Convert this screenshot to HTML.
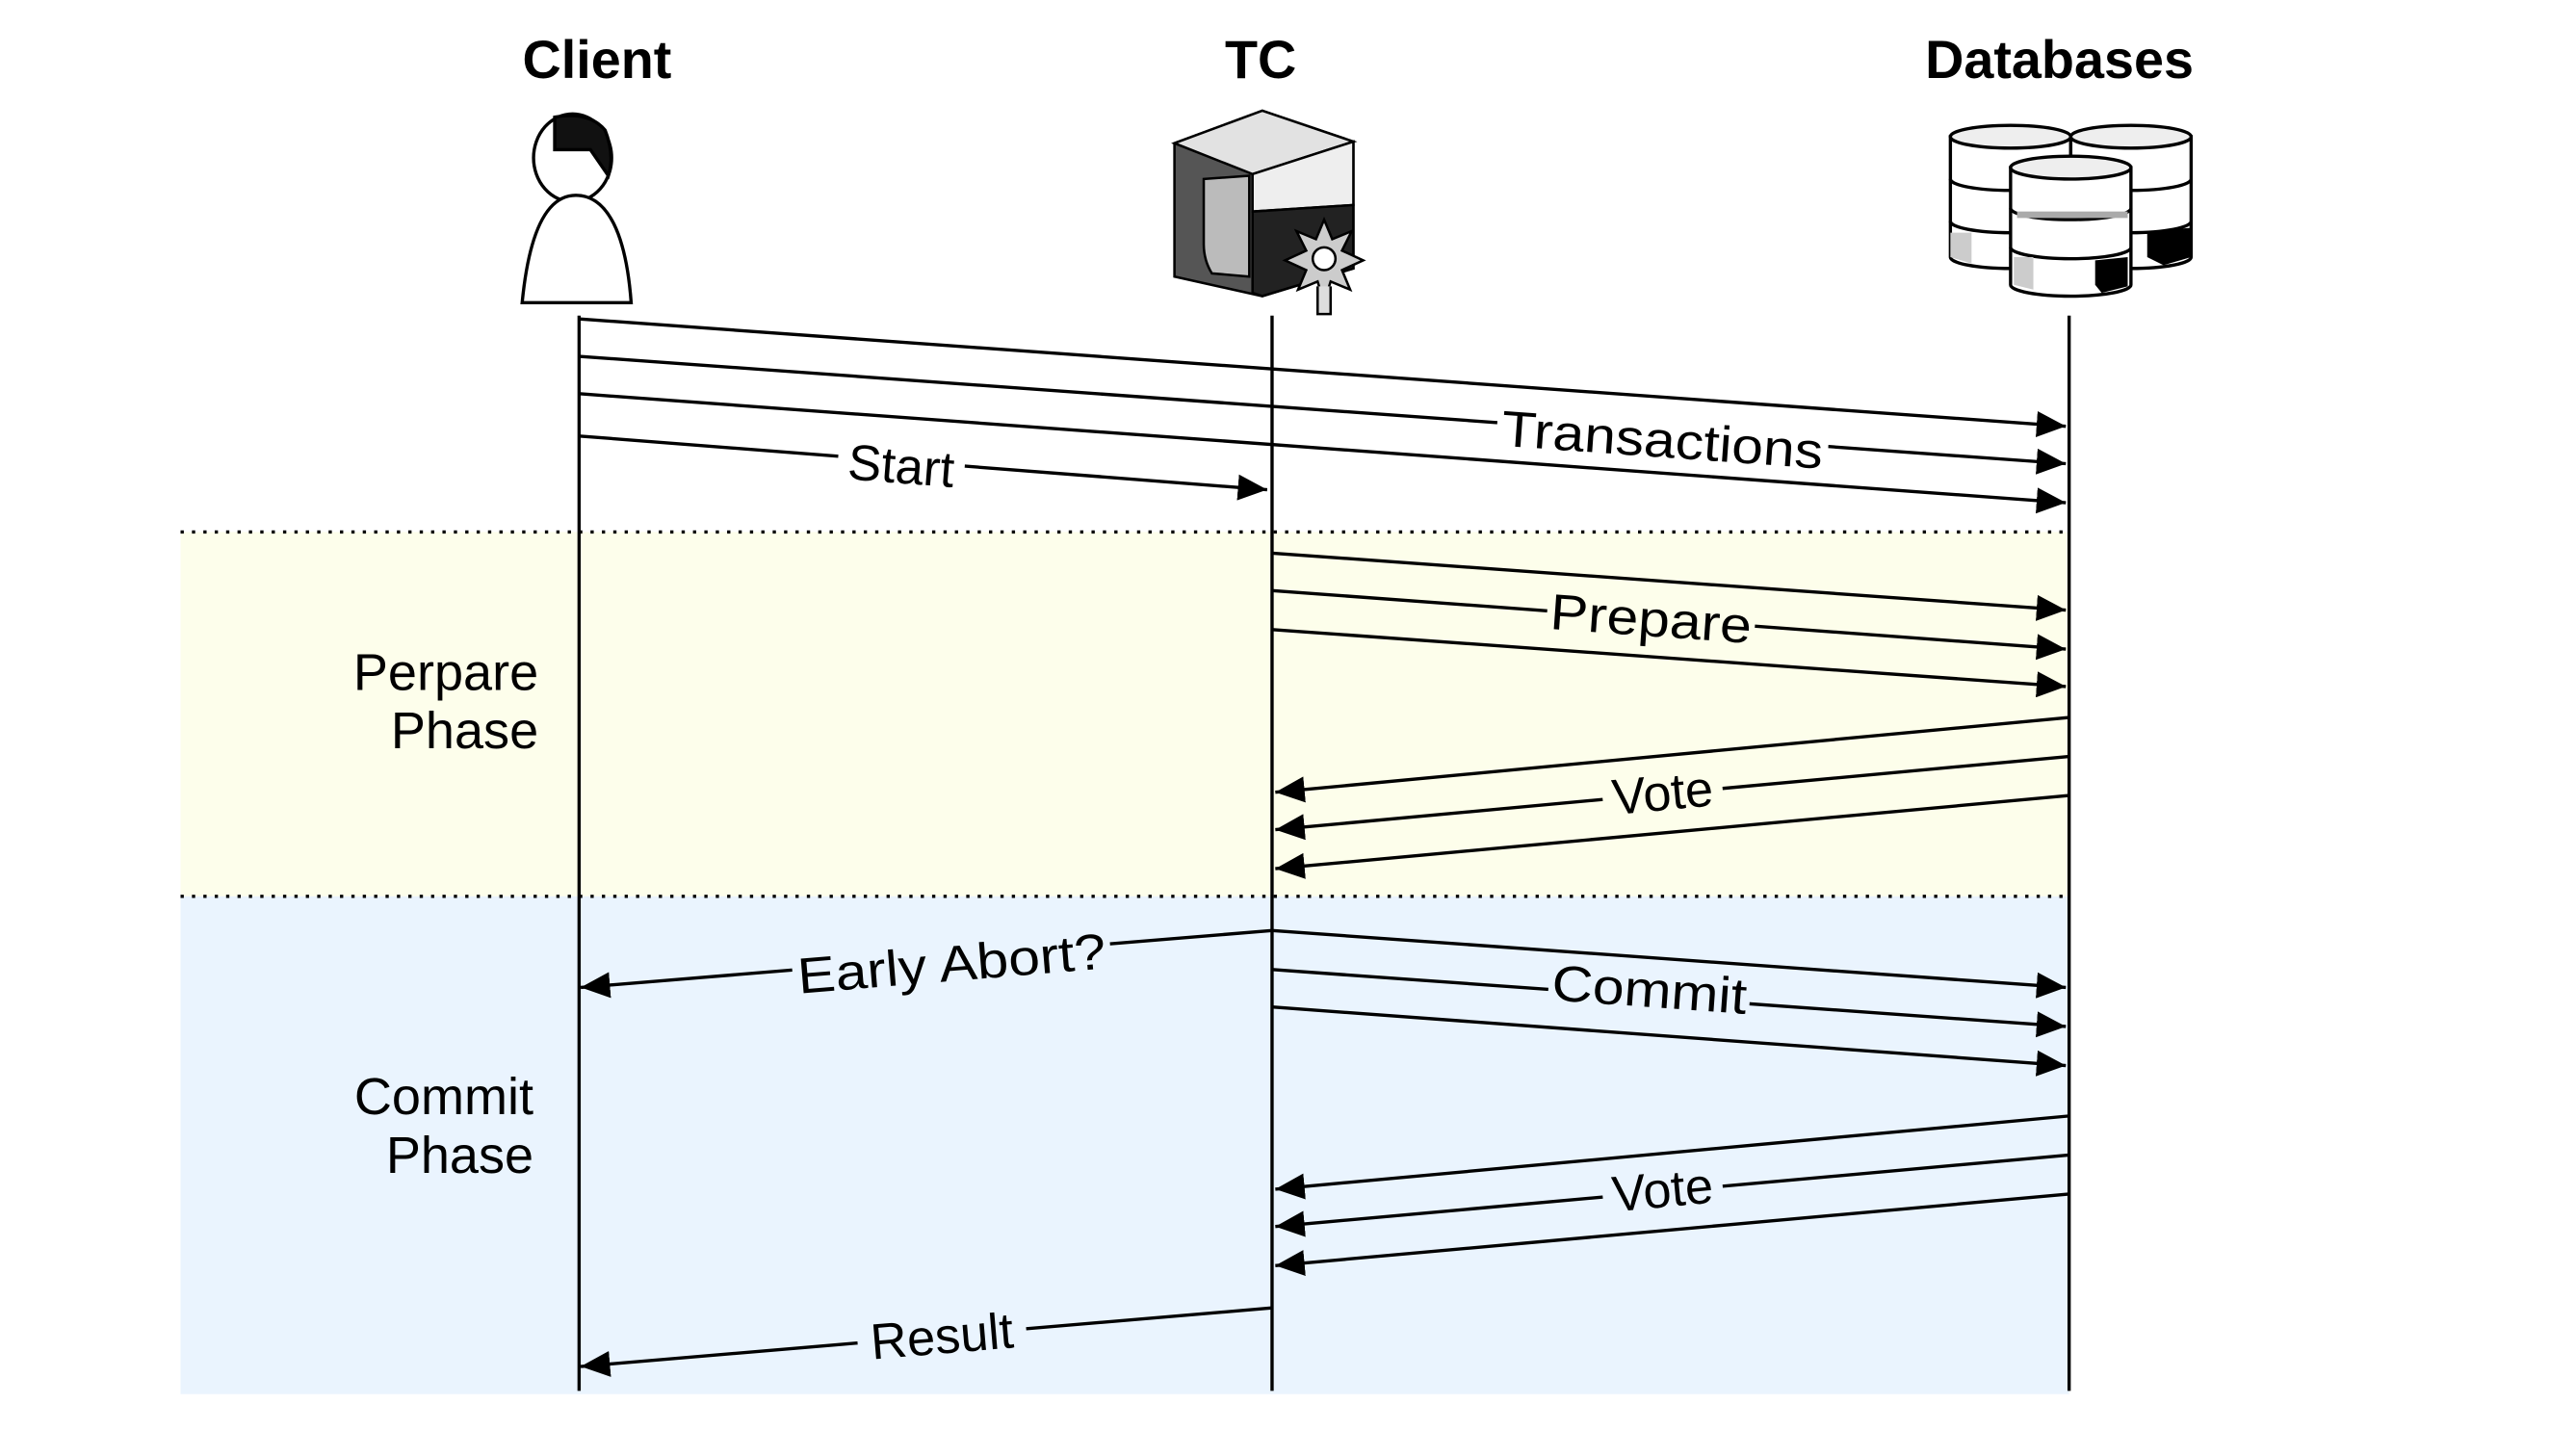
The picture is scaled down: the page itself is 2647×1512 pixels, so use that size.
<!DOCTYPE html>
<html><head><meta charset="utf-8"><style>html,body{margin:0;padding:0;background:#fff}svg{display:block}</style></head>
<body>
<svg width="2647" height="1512" viewBox="0 0 1567 895" xmlns="http://www.w3.org/2000/svg" font-family="Liberation Sans, Arial, sans-serif">
<defs>
<marker id="a" markerUnits="userSpaceOnUse" markerWidth="20" markerHeight="16" refX="18" refY="8" orient="auto"><path d="M0,0 L18,8 L0,16 z" fill="#000"/></marker>
</defs>
<rect x="111" y="327" width="1161" height="224" fill="#fdfeeb"/>
<rect x="111" y="551" width="1161" height="306" fill="#eaf4fe"/>
<line x1="111" y1="327" x2="1272" y2="327" stroke="#000" stroke-width="2" stroke-dasharray="2,5"/>
<line x1="111" y1="551" x2="1272" y2="551" stroke="#000" stroke-width="2" stroke-dasharray="2,5"/>
<g font-weight="bold" font-size="33" text-anchor="middle">
<text x="367" y="48">Client</text><text x="775" y="48">TC</text><text x="1266" y="48">Databases</text>
</g>
<g stroke="#000" stroke-width="2">
<ellipse cx="352" cy="97" rx="24" ry="27" fill="#fff"/>
<path d="M341,75 L341,92 L363,92 L374,108 Q378,95 372,80 Q362,68 341,72 z" fill="#111"/>
<path d="M354,120 C335,120 325,145 321,186 L388,186 C385,145 374,120 354,120 z" fill="#fff"/>
</g>
<g stroke="#000" stroke-width="1.5">
<path d="M722,88 L776,68 L832,87 L832,165 L776,182 L722,170 z" fill="#555"/>
<path d="M722,88 L776,68 L832,87 L770,107 z" fill="#e2e2e2"/>
<path d="M770,107 L832,87 L832,126 L770,130 z" fill="#eee"/>
<path d="M770,130 L832,126 L832,165 L776,182 L770,180 z" fill="#222"/>
<path d="M740,110 L768,108 L768,170 L745,168 Q740,160 740,150 z" fill="#bbb"/>
<polygon points="814,135 819,147 831,142 825,154 838,160 825,166 830,178 818,173 814,186 810,173 798,178 803,166 790,160 803,154 797,142 809,147" fill="#ccc"/>
<circle cx="814" cy="159" r="7" fill="#fff"/>
<path d="M810,176 L810,193 L818,193 L818,176" fill="#ddd"/>
</g>
<g stroke="#000" stroke-width="2">
<g id="cyl">
<path d="M1199,84 L1199,158 A37,7 0 0 0 1273,158 L1273,84 z" fill="#fff"/>
<ellipse cx="1236" cy="84" rx="37" ry="7" fill="#eee"/>
<path d="M1199,110 A37,7 0 0 0 1273,110 M1199,136 A37,7 0 0 0 1273,136" fill="none"/>
<path d="M1199,143 L1212,143 L1212,162 L1199,158 z" fill="#ccc" stroke="none"/>
</g>
<use href="#cyl" x="74"/>
<path d="M1320,142 L1347,140 L1347,158 L1330,163 L1320,158 z" fill="#000" stroke="none"/>
<path d="M1236,103 L1236,175 A37,7 0 0 0 1310,175 L1310,103 z" fill="#fff"/>
<ellipse cx="1273" cy="103" rx="37" ry="7" fill="#eee"/>
<path d="M1236,128 A37,7 0 0 0 1310,128 M1236,152 A37,7 0 0 0 1310,152" fill="none"/>
<path d="M1240,130 L1308,130 L1308,134 L1240,134 z" fill="#aaa" stroke="none"/>
<path d="M1288,160 L1308,158 L1308,176 L1292,180 L1288,175 z" fill="#000" stroke="none"/>
<path d="M1238,158 L1250,158 L1250,178 L1238,175 z" fill="#ccc" stroke="none"/>
</g>
<g stroke="#000" stroke-width="2">
<line x1="356" y1="194" x2="356" y2="855"/>
<line x1="782" y1="194" x2="782" y2="855"/>
<line x1="1272" y1="194" x2="1272" y2="855"/>
</g>
<g stroke="#000" stroke-width="2" marker-end="url(#a)">
<line x1="356" y1="196" x2="1270" y2="262"/>
<line x1="356" y1="219" x2="1270" y2="285"/>
<line x1="356" y1="242" x2="1270" y2="309"/>
<line x1="356" y1="268" x2="779" y2="301"/>
<line x1="782" y1="340" x2="1270" y2="375"/>
<line x1="782" y1="363" x2="1270" y2="399"/>
<line x1="782" y1="387" x2="1270" y2="422"/>
<line x1="1272" y1="441" x2="784" y2="487"/>
<line x1="1272" y1="465" x2="784" y2="510"/>
<line x1="1272" y1="489" x2="784" y2="534"/>
<line x1="782" y1="572" x2="357" y2="607"/>
<line x1="782" y1="572" x2="1270" y2="607"/>
<line x1="782" y1="596" x2="1270" y2="631"/>
<line x1="782" y1="619" x2="1270" y2="655"/>
<line x1="1272" y1="686" x2="784" y2="731"/>
<line x1="1272" y1="710" x2="784" y2="754"/>
<line x1="1272" y1="734" x2="784" y2="778"/>
<line x1="782" y1="804" x2="357" y2="840"/>
</g>
<g font-size="31" text-anchor="middle">
<g transform="translate(1022,270) rotate(4.1)"><rect x="-102" y="-17" width="204" height="32" fill="#fff"/><text y="11" textLength="198" lengthAdjust="spacingAndGlyphs">Transactions</text></g>
<g transform="translate(554,286) rotate(4.5)"><rect x="-39" y="-17" width="78" height="32" fill="#fff"/><text y="11">Start</text></g>
<g transform="translate(1015,380) rotate(4.1)"><rect x="-64" y="-17" width="128" height="32" fill="#fdfeeb"/><text y="11" textLength="124" lengthAdjust="spacingAndGlyphs">Prepare</text></g>
<g transform="translate(1022,487) rotate(-5.4)"><rect x="-37" y="-17" width="74" height="32" fill="#fdfeeb"/><text y="11">Vote</text></g>
<g transform="translate(585,592) rotate(-4.7)"><rect x="-98" y="-17" width="196" height="32" fill="#eaf4fe"/><text y="11" textLength="190" lengthAdjust="spacingAndGlyphs">Early Abort?</text></g>
<g transform="translate(1014,608) rotate(4.1)"><rect x="-62" y="-17" width="124" height="32" fill="#eaf4fe"/><text y="11" textLength="120" lengthAdjust="spacingAndGlyphs">Commit</text></g>
<g transform="translate(1022,731) rotate(-5.4)"><rect x="-37" y="-17" width="74" height="32" fill="#eaf4fe"/><text y="11">Vote</text></g>
<g transform="translate(579,821) rotate(-4.8)"><rect x="-52" y="-17" width="104" height="32" fill="#eaf4fe"/><text y="11">Result</text></g>
</g>
<g font-size="32" text-anchor="end">
<text x="331" y="424">Perpare</text><text x="331" y="460">Phase</text>
<text x="328" y="685">Commit</text><text x="328" y="721">Phase</text>
</g>
</svg>
</body></html>
